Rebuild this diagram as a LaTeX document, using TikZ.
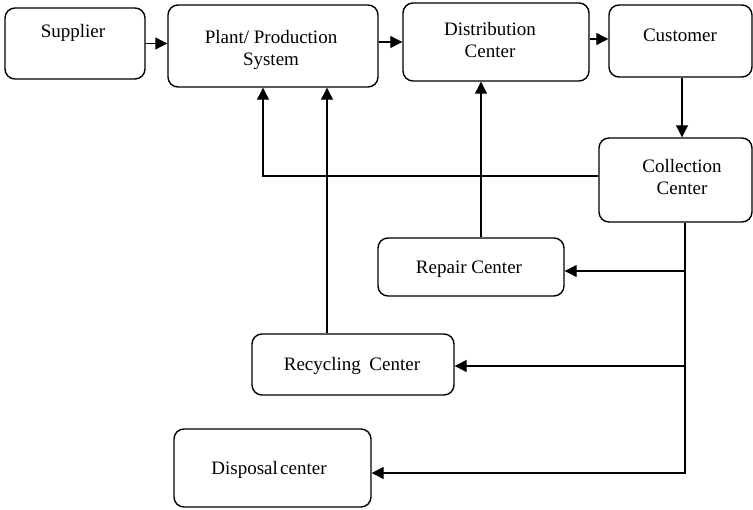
\documentclass[tikz,border=0pt]{standalone}
\usepackage{fontspec}
\setmainfont{Liberation Serif}
\usetikzlibrary{arrows.meta}
\begin{document}
\begin{tikzpicture}[x=1pt,y=-1pt,
  box/.style={draw, line width=1.4pt, rounded corners=10pt, inner sep=0pt},
  lbl/.style={inner sep=0pt, align=center, font=\fontsize{19}{22}\selectfont},
  link/.style={line width=1.1pt},
  arr/.style={link, -{Triangle[length=12pt,width=12pt]}}]
\useasboundingbox (0,0) rectangle (753,510);

% boxes
\node[box, minimum width=140pt, minimum height=71pt] (supplier) at (75,43.5) {};
\node[box, minimum width=210pt, minimum height=82pt] (plant) at (273,46) {};
\node[box, minimum width=186pt, minimum height=78pt] (dist) at (496,42) {};
\node[box, minimum width=143pt, minimum height=72pt] (cust) at (680.5,41) {};
\node[box, minimum width=153pt, minimum height=84pt] (coll) at (675.5,180) {};
\node[box, minimum width=186pt, minimum height=58pt] (repair) at (471,267) {};
\node[box, minimum width=202pt, minimum height=61pt] (recyc) at (353,364.5) {};
\node[box, minimum width=197pt, minimum height=78pt] (disp) at (272.5,468) {};

% labels
\node[lbl] (supplier-t) at (73,33) {Supplier};
\node[lbl] (plant-t) at (271,50) {Plant/ Production\\System};
\node[lbl] (dist-t) at (490,40) {Distribution\\Center};
\node[lbl] (cust-t) at (680,35) {Customer};
\node[lbl] (coll-t) at (682,177) {Collection\\Center};
\node[lbl] (repair-t) at (469,269) {Repair Center};
\node[lbl] (recyc-t) at (352,366) {Recycling\hspace{0.45em}Center};
\node[lbl] (disp-t) at (269,470) {Disposal\hspace{0.12em}center};

% forward chain
\draw[arr] (supplier.east) -- (supplier.east -| plant.west);
\draw[arr] (plant.east |- dist.west) -- (dist.west);
\draw[arr] ([yshift=3pt]dist.east) -- ([yshift=3pt]dist.east -| cust.west);
\draw[arr] ([xshift=1.5pt]cust.south) -- ([xshift=1.5pt]cust.south |- coll.north);

% returns to plant and distribution
\draw[arr] ([yshift=4pt]coll.west) -| ([xshift=-10pt]plant.south);
\draw[arr] ([xshift=-26pt]recyc.north) -- ([xshift=-26pt]recyc.north |- plant.south);
\draw[arr] ([xshift=10pt]repair.north) -- ([xshift=10pt]repair.north |- dist.south);

% collection trunk and branches
\coordinate (trunk) at ([xshift=9.5pt]coll.south);
\coordinate (rep-in) at ([yshift=-4pt]repair.east);
\coordinate (rec-in) at ([yshift=-1.5pt]recyc.east);
\coordinate (dis-in) at ([yshift=-5pt]disp.east);
\draw[arr] (trunk) |- (dis-in);
\draw[arr] (trunk |- rep-in) -- (rep-in);
\draw[arr] (trunk |- rec-in) -- (rec-in);
\end{tikzpicture}
\end{document}
